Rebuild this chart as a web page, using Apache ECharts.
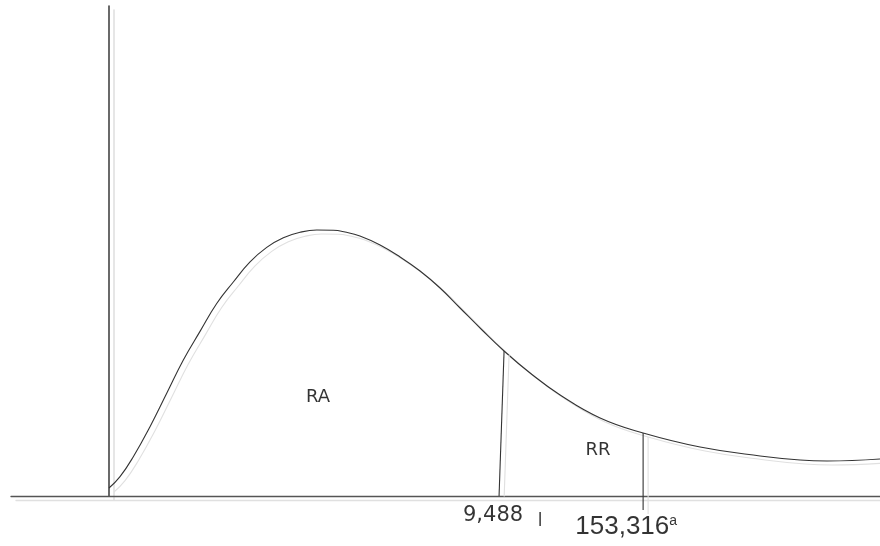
<!DOCTYPE html>
<html>
<head>
<meta charset="utf-8">
<script src="https://cdn.jsdelivr.net/npm/echarts@6/dist/echarts.min.js"></script>
<style>
  html, body { margin: 0; padding: 0; background: #fff; }
  #main { width: 880px; height: 546px; }
</style>
</head>
<body>
<div id="main"></div>
<script>
  // 曲线上的点
  var curveX = [0.0, 0.266, 0.587, 0.99, 1.394, 1.795, 2.198, 2.601, 3.002, 3.406, 3.809, 4.21, 4.614, 5.017, 5.418, 5.70,
                6.06, 6.546, 7.029, 7.512, 7.995, 8.478, 9.01, 9.541, 10.169, 10.894, 11.86, 12.899, 14.275, 15.725, 16.69, 17.343, 18.62];
  var curveY = [0.008, 0.0193, 0.0393, 0.0693, 0.1027, 0.136, 0.1646, 0.1925, 0.214, 0.2341, 0.2486, 0.2582, 0.2637, 0.266, 0.2658, 0.264,
                0.260, 0.251, 0.239, 0.225, 0.208, 0.188, 0.166, 0.145, 0.123, 0.101, 0.078, 0.063, 0.049, 0.040, 0.036, 0.035, 0.037];

  // 临界值 9,488 的竖线
  var critX = [9.42, 9.541];
  var critY = [0, 0.145];
  // 统计量 153,316 的竖线
  var statX = [12.899, 12.899];
  var statY = [-0.014, 0.063];

  // 文字
  var labelNames = ['RA', 'RR', '9,488', 'l', '153,316'];
  var labelX = [5.05, 11.81, 9.275, 10.41, 12.49];
  var labelY = [0.099, 0.046, -0.020, -0.026, -0.031];

  function pairs(xs, ys) {
    var out = [];
    for (var i = 0; i < xs.length; i++) out.push([xs[i], ys[i]]);
    return out;
  }

  var darkLine = {
    color: '#333',
    width: 1.1,
    shadowColor: '#e0e0e0',
    shadowBlur: 0,
    shadowOffsetX: 5,
    shadowOffsetY: 4
  };

  var labelStyles = [
    { fontFamily: 'DejaVu Sans', fontSize: 18 },
    { fontFamily: 'DejaVu Sans', fontSize: 18 },
    { fontFamily: 'DejaVu Sans', fontSize: 21 },
    { fontFamily: 'DejaVu Sans', fontSize: 17 },
    { formatter: '{m|153,316}{s|a}' }
  ];

  var labelData = [];
  for (var i = 0; i < labelNames.length; i++) {
    var lb = Object.assign({ show: true, position: 'inside', color: '#000' }, labelStyles[i]);
    labelData.push({ name: labelNames[i], value: [labelX[i], labelY[i]], label: lb });
  }

  var myChart = echarts.init(document.getElementById('main'));
  var option = {
    animation: false,
    backgroundColor: '#fff',
    grid: { left: 11, right: 0, top: 6, bottom: 50 },
    xAxis: {
      type: 'value',
      min: -2.367,
      max: 18.62,
      axisLine: { show: true, lineStyle: { color: '#555', width: 1.3, shadowColor: '#e0e0e0', shadowOffsetX: 5, shadowOffsetY: 4 } },
      axisTick: { show: false },
      axisLabel: { show: false },
      splitLine: { show: false }
    },
    yAxis: {
      type: 'value',
      min: 0,
      max: 0.49,
      axisLine: { show: true, onZero: true, lineStyle: { color: '#444', width: 1.6, shadowColor: '#e0e0e0', shadowOffsetX: 5, shadowOffsetY: 4 } },
      axisTick: { show: false },
      axisLabel: { show: false },
      splitLine: { show: false }
    },
    series: [
      {
        type: 'line',
        data: pairs(curveX, curveY),
        smooth: 0.45,
        showSymbol: false,
        lineStyle: darkLine
      },
      {
        type: 'line',
        data: pairs(critX, critY),
        showSymbol: false,
        lineStyle: darkLine
      },
      {
        type: 'line',
        data: pairs(statX, statY),
        showSymbol: false,
        clip: false,
        lineStyle: darkLine
      },
      {
        type: 'scatter',
        symbolSize: 0,
        clip: false,
        data: labelData,
        label: {
          show: true,
          formatter: '{b}',
          rich: {
            m: { fontFamily: 'Liberation Sans', fontSize: 26, color: '#000' },
            s: { fontFamily: 'Liberation Sans', fontSize: 14, color: '#000', verticalAlign: 'top' }
          }
        }
      }
    ]
  };
  myChart.setOption(option);
</script>
</body>
</html>
